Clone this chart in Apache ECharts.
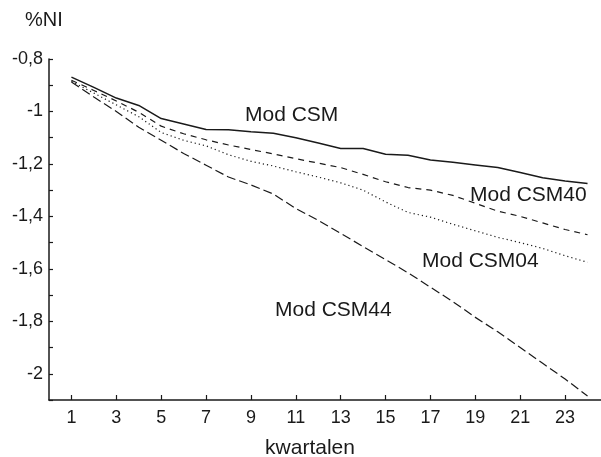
<!DOCTYPE html>
<html>
<head>
<meta charset="utf-8">
<script src="https://cdn.jsdelivr.net/npm/echarts@6/dist/echarts.min.js"></script>
<style>
  html, body { margin: 0; padding: 0; background: #fff; }
  #chart { width: 601px; height: 457px; }
</style>
</head>
<body>
<div id="chart"></div>
<script>
// Quarters (kwartalen)
const quarters = [1,2,3,4,5,6,7,8,9,10,11,12,13,14,15,16,17,18,19,20,21,22,23,24];
// Series values (% NI)
const modCSM   = [-0.869,-0.908,-0.949,-0.977,-1.027,-1.048,-1.069,-1.070,-1.077,-1.083,-1.100,-1.120,-1.141,-1.141,-1.163,-1.167,-1.185,-1.194,-1.204,-1.214,-1.233,-1.253,-1.265,-1.275];
const modCSM40 = [-0.881,-0.920,-0.960,-1.003,-1.056,-1.085,-1.108,-1.128,-1.145,-1.162,-1.180,-1.197,-1.214,-1.240,-1.268,-1.290,-1.300,-1.320,-1.350,-1.380,-1.400,-1.425,-1.450,-1.470];
const modCSM04 = [-0.885,-0.930,-0.975,-1.020,-1.080,-1.110,-1.131,-1.165,-1.190,-1.208,-1.230,-1.250,-1.272,-1.300,-1.345,-1.385,-1.403,-1.430,-1.455,-1.480,-1.500,-1.522,-1.550,-1.575];
const modCSM44 = [-0.888,-0.945,-1.000,-1.060,-1.110,-1.160,-1.205,-1.250,-1.280,-1.315,-1.370,-1.415,-1.465,-1.515,-1.565,-1.615,-1.670,-1.725,-1.785,-1.840,-1.900,-1.960,-2.020,-2.085];
// Tick labels
const xTickValues = [1,3,5,7,9,11,13,15,17,19,21,23];
const yTickValues = [-2,-1.8,-1.6,-1.4,-1.2,-1,-0.8];
const yTickLabels = ['-2','-1,8','-1,6','-1,4','-1,2','-1','-0,8'];
const seriesNames = ['Mod CSM','Mod CSM40','Mod CSM04','Mod CSM44'];

const FONT = '"Liberation Sans", Arial, Helvetica, sans-serif';
const INK = '#1a1a1a';

function pairs(vals) { return quarters.map((q, i) => [q, vals[i]]); }

const chart = echarts.init(document.getElementById('chart'), null, { renderer: 'canvas' });

const option = {
  animation: false,
  backgroundColor: '#fff',
  grid: { left: 49, right: 0, top: 59, bottom: 57, containLabel: false },
  xAxis: {
    type: 'value',
    min: 0,
    max: 24.6,
    axisLine: { show: true, lineStyle: { color: INK, width: 1.5 } },
    axisTick: { show: true, inside: true, length: 5, customValues: xTickValues, lineStyle: { color: INK, width: 1.2 } },
    axisLabel: { show: true, customValues: xTickValues, margin: 9, color: INK, fontSize: 18, fontFamily: FONT },
    splitLine: { show: false }
  },
  yAxis: {
    type: 'value',
    min: -2.1,
    max: -0.8,
    interval: 0.1,
    axisLine: { show: true, lineStyle: { color: INK, width: 1.5 } },
    axisTick: { show: true, inside: true, length: 4, lineStyle: { color: INK, width: 1.2 } },
    axisLabel: {
      show: true, margin: 6, color: INK, fontSize: 18, fontFamily: FONT,
      formatter: function (v) {
        for (let i = 0; i < yTickValues.length; i++) {
          if (Math.abs(v - yTickValues[i]) < 1e-6) return yTickLabels[i];
        }
        return '';
      }
    },
    splitLine: { show: false }
  },
  series: [
    { name: seriesNames[0], type: 'line', data: pairs(modCSM), symbol: 'none',
      lineStyle: { color: INK, width: 1.5, type: 'solid' } },
    { name: seriesNames[1], type: 'line', data: pairs(modCSM40), symbol: 'none',
      lineStyle: { color: INK, width: 1.2, type: [6, 5] } },
    { name: seriesNames[2], type: 'line', data: pairs(modCSM04), symbol: 'none',
      lineStyle: { color: INK, width: 1.2, type: [1.2, 3] } },
    { name: seriesNames[3], type: 'line', data: pairs(modCSM44), symbol: 'none',
      lineStyle: { color: INK, width: 1.2, type: [9, 4] } }
  ],
  graphic: [
    { type: 'text', x: 25, y: 20, style: { text: '%NI', font: '20px ' + FONT, fill: INK, textAlign: 'left', textVerticalAlign: 'middle' } },
    { type: 'text', x: 310, y: 448, style: { text: 'kwartalen', font: '21px ' + FONT, fill: INK, textAlign: 'center', textVerticalAlign: 'middle' } },
    { type: 'text', x: 245, y: 115, style: { text: seriesNames[0], font: '21px ' + FONT, fill: INK, textAlign: 'left', textVerticalAlign: 'middle' } },
    { type: 'text', x: 470, y: 195, style: { text: seriesNames[1], font: '21px ' + FONT, fill: INK, textAlign: 'left', textVerticalAlign: 'middle' } },
    { type: 'text', x: 422, y: 261, style: { text: seriesNames[2], font: '21px ' + FONT, fill: INK, textAlign: 'left', textVerticalAlign: 'middle' } },
    { type: 'text', x: 275, y: 310, style: { text: seriesNames[3], font: '21px ' + FONT, fill: INK, textAlign: 'left', textVerticalAlign: 'middle' } }
  ]
};

chart.setOption(option);
</script>
</body>
</html>
